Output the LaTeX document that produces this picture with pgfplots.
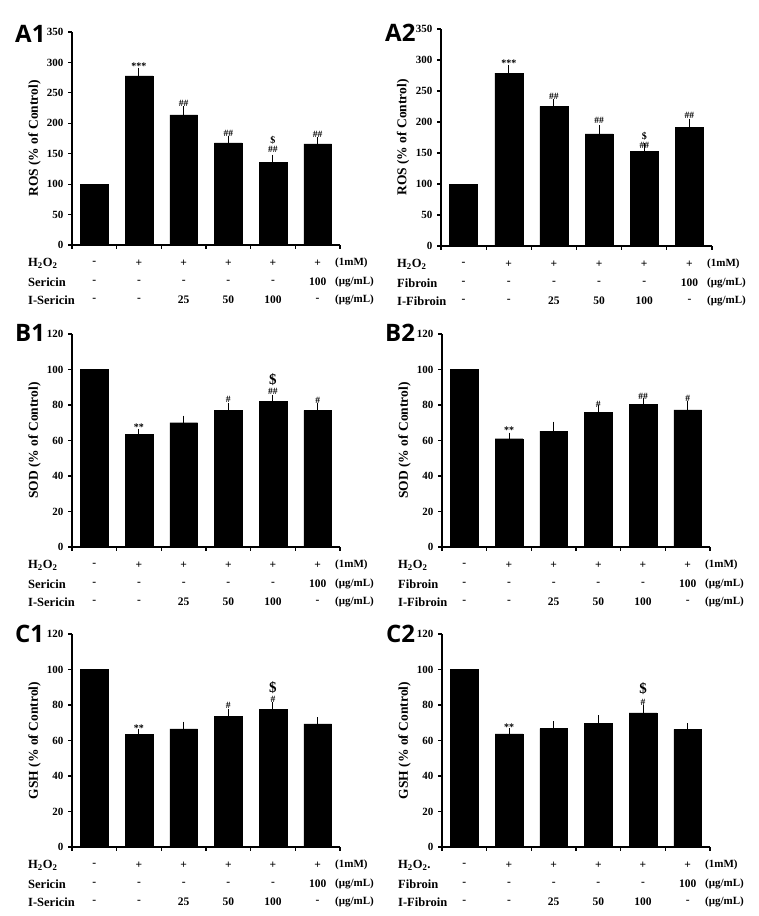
\documentclass[border=0pt]{standalone}
\usepackage{fontspec}
\setmainfont{Liberation Serif}
\newfontfamily\panelfont{Open Sans}
\usepackage{pgfplots}
\pgfplotsset{compat=1.18}

\pgfplotsset{
 panel/.style={anchor=south west, scale only axis, width=268pt, height=213pt,
   xmin=-0.5, xmax=5.5, ymin=0, xtick={-0.5,0.5,...,5.5}, xticklabel=\empty,
   axis x line*=bottom, axis y line*=left, tick align=outside, major tick length=4pt,
   axis line style={line width=1.2pt}, tick style={line width=1.1pt, black},
   clip=false,
   ticklabel style={font=\fontsize{11}{11}\selectfont\bfseries},
   yticklabel style={xshift=-1pt},
   /pgf/number format/assume math mode=true,
   ylabel style={at={(axis description cs:-0.14,0.5)}, anchor=center, font=\fontsize{13.5}{13.5}\selectfont\bfseries}},
 bars/.style={ybar, fill=black, draw=black, bar width=0.62,
   error bars/.cd, y dir=plus, y explicit,
   error bar style={line width=1pt, black},
   error mark options={line width=1pt, mark size=2.8pt, black}},
 bar0/.style={ybar, fill=black, draw=black, bar width=0.62},
}
\tikzset{
 rowlab/.style={anchor=west, inner sep=0pt, font=\fontsize{12.5}{12.5}\selectfont\bfseries},
 rowval/.style={anchor=center, inner sep=0pt, font=\fontsize{11.5}{11.5}\selectfont\bfseries},
 rowunit/.style={anchor=west, inner sep=0pt, font=\fontsize{11}{11}\selectfont\bfseries},
 plab/.style={anchor=base west, inner sep=0pt, font=\panelfont\fontsize{24}{24}\selectfont\bfseries},
}
\newcommand{\ann}[4][9.5]{\node[font=\fontsize{#1}{#1}\selectfont\bfseries, inner sep=0pt] at (axis cs:#2,#3) {#4};}
\newcommand{\condrows}[3]{%
 \node[rowlab] at ([xshift=-44pt,yshift=-18pt]rel axis cs:0,0) {#1};
 \node[rowlab] at ([xshift=-44pt,yshift=-37pt]rel axis cs:0,0) {#2};
 \node[rowlab] at ([xshift=-44pt,yshift=-55pt]rel axis cs:0,0) {#3};
 \node[rowunit] at ([xshift=-5pt,yshift=-18pt]rel axis cs:1,0) {(1mM)};
 \node[rowunit] at ([xshift=-5pt,yshift=-37pt]rel axis cs:1,0) {(μg/mL)};
 \node[rowunit] at ([xshift=-5pt,yshift=-55pt]rel axis cs:1,0) {(μg/mL)};
 \node[rowval] at ([yshift=-18pt]axis cs:0,0) {-};
 \node[rowval] at ([yshift=-18pt]axis cs:1,0) {+};
 \node[rowval] at ([yshift=-18pt]axis cs:2,0) {+};
 \node[rowval] at ([yshift=-18pt]axis cs:3,0) {+};
 \node[rowval] at ([yshift=-18pt]axis cs:4,0) {+};
 \node[rowval] at ([yshift=-18pt]axis cs:5,0) {+};
 \node[rowval] at ([yshift=-37pt]axis cs:0,0) {-};
 \node[rowval] at ([yshift=-37pt]axis cs:1,0) {-};
 \node[rowval] at ([yshift=-37pt]axis cs:2,0) {-};
 \node[rowval] at ([yshift=-37pt]axis cs:3,0) {-};
 \node[rowval] at ([yshift=-37pt]axis cs:4,0) {-};
 \node[rowval] at ([yshift=-37pt]axis cs:5,0) {100};
 \node[rowval] at ([yshift=-55pt]axis cs:0,0) {-};
 \node[rowval] at ([yshift=-55pt]axis cs:1,0) {-};
 \node[rowval] at ([yshift=-55pt]axis cs:2,0) {25};
 \node[rowval] at ([yshift=-55pt]axis cs:3,0) {50};
 \node[rowval] at ([yshift=-55pt]axis cs:4,0) {100};
 \node[rowval] at ([yshift=-55pt]axis cs:5,0) {-};
}
\newcommand{\hoo}{H\textsubscript{2}O\textsubscript{2}}

\begin{document}
\begin{tikzpicture}
\useasboundingbox (0,0) rectangle (759pt,916pt);

% ---------- A1 ----------
\begin{axis}[panel, at={(72pt,671pt)}, ymax=350, ytick={0,50,...,350}, ylabel={ROS (\% of Control)}]
\addplot[bar0] coordinates {(0,100)};
\addplot[bars] coordinates {(1,278) +- (0,9) (2,214) +- (0,9) (3,168) +- (0,7) (4,136) +- (0,8) (5,166) +- (0,7)};
\ann[10]{1}{293}{***}
\ann{2}{233}{\#\#}
\ann{3}{184}{\#\#}
\ann[10]{4}{172}{\$}
\ann{4}{156.5}{\#\#}
\ann{5}{181}{\#\#}
\condrows{\hoo}{Sericin}{I-Sericin}
\end{axis}
\node[plab] at (15pt,873pt) {A1};

% ---------- A2 ----------
\begin{axis}[panel, at={(441pt,670pt)}, width=271pt, height=217pt, ymax=350, ytick={0,50,...,350}, ylabel={ROS (\% of Control)}]
\addplot[bar0] coordinates {(0,100)};
\addplot[bars] coordinates {(1,279) +- (0,9) (2,225) +- (0,8) (3,181) +- (0,10) (4,153) +- (0,8) (5,191) +- (0,10)};
\ann[10]{1}{295}{***}
\ann{2}{242}{\#\#}
\ann{3}{202}{\#\#}
\ann[10]{4}{177}{\$}
\ann{4}{162.5}{\#\#}
\ann{5}{211}{\#\#}
\condrows{\hoo}{Fibroin}{I-Fibroin}
\end{axis}
\node[plab] at (385pt,874pt) {A2};

% ---------- B1 ----------
\begin{axis}[panel, at={(72pt,369pt)}, ymax=120, ytick={0,20,...,120}, ylabel={SOD (\% of Control)}]
\addplot[bar0] coordinates {(0,100)};
\addplot[bars] coordinates {(1,63.3) +- (0,1.7) (2,70) +- (0,2.5) (3,77) +- (0,2.6) (4,82) +- (0,2.2) (5,77) +- (0,2.5)};
\ann[10]{1}{67.4}{**}
\ann{3}{82.9}{\#}
\ann[15]{4}{94.3}{\$}
\ann{4}{87.9}{\#\#}
\ann{5}{82.5}{\#}
\condrows{\hoo}{Sericin}{I-Sericin}
\end{axis}
\node[plab] at (15pt,574pt) {B1};

% ---------- B2 ----------
\begin{axis}[panel, at={(442pt,369pt)}, ymax=120, ytick={0,20,...,120}, ylabel={SOD (\% of Control)}]
\addplot[bar0] coordinates {(0,100)};
\addplot[bars] coordinates {(1,61) +- (0,1.8) (2,65.3) +- (0,3.8) (3,76) +- (0,2.3) (4,80.3) +- (0,2) (5,77.3) +- (0,3.2)};
\ann[10]{1}{65.8}{**}
\ann{3}{80.3}{\#}
\ann{4}{84.7}{\#\#}
\ann{5}{83.6}{\#}
\condrows{\hoo}{Fibroin}{I-Fibroin}
\end{axis}
\node[plab] at (385pt,574pt) {B2};

% ---------- C1 ----------
\begin{axis}[panel, at={(72pt,69pt)}, ymax=120, ytick={0,20,...,120}, ylabel={GSH (\% of Control)}]
\addplot[bar0] coordinates {(0,100)};
\addplot[bars] coordinates {(1,63.5) +- (0,1.5) (2,66.5) +- (0,2.5) (3,73.5) +- (0,2.9) (4,77.5) +- (0,2.5) (5,69.4) +- (0,2.1)};
\ann[10]{1}{67.1}{**}
\ann{3}{80}{\#}
\ann[15]{4}{89.6}{\$}
\ann{4}{83}{\#}
\condrows{\hoo}{Sericin}{I-Sericin}
\end{axis}
\node[plab] at (15pt,273pt) {C1};

% ---------- C2 ----------
\begin{axis}[panel, at={(442pt,69pt)}, ymax=120, ytick={0,20,...,120}, ylabel={GSH (\% of Control)}]
\addplot[bar0] coordinates {(0,100)};
\addplot[bars] coordinates {(1,63.7) +- (0,1.5) (2,66.7) +- (0,2.5) (3,69.8) +- (0,2.8) (4,75.6) +- (0,2.9) (5,66.2) +- (0,2)};
\ann[10]{1}{67.3}{**}
\ann[15]{4}{89}{\$}
\ann{4}{81.3}{\#}
\condrows{\hoo.}{Fibroin}{I-Fibroin}
\end{axis}
\node[plab] at (386pt,273pt) {C2};
\end{tikzpicture}
\end{document}
